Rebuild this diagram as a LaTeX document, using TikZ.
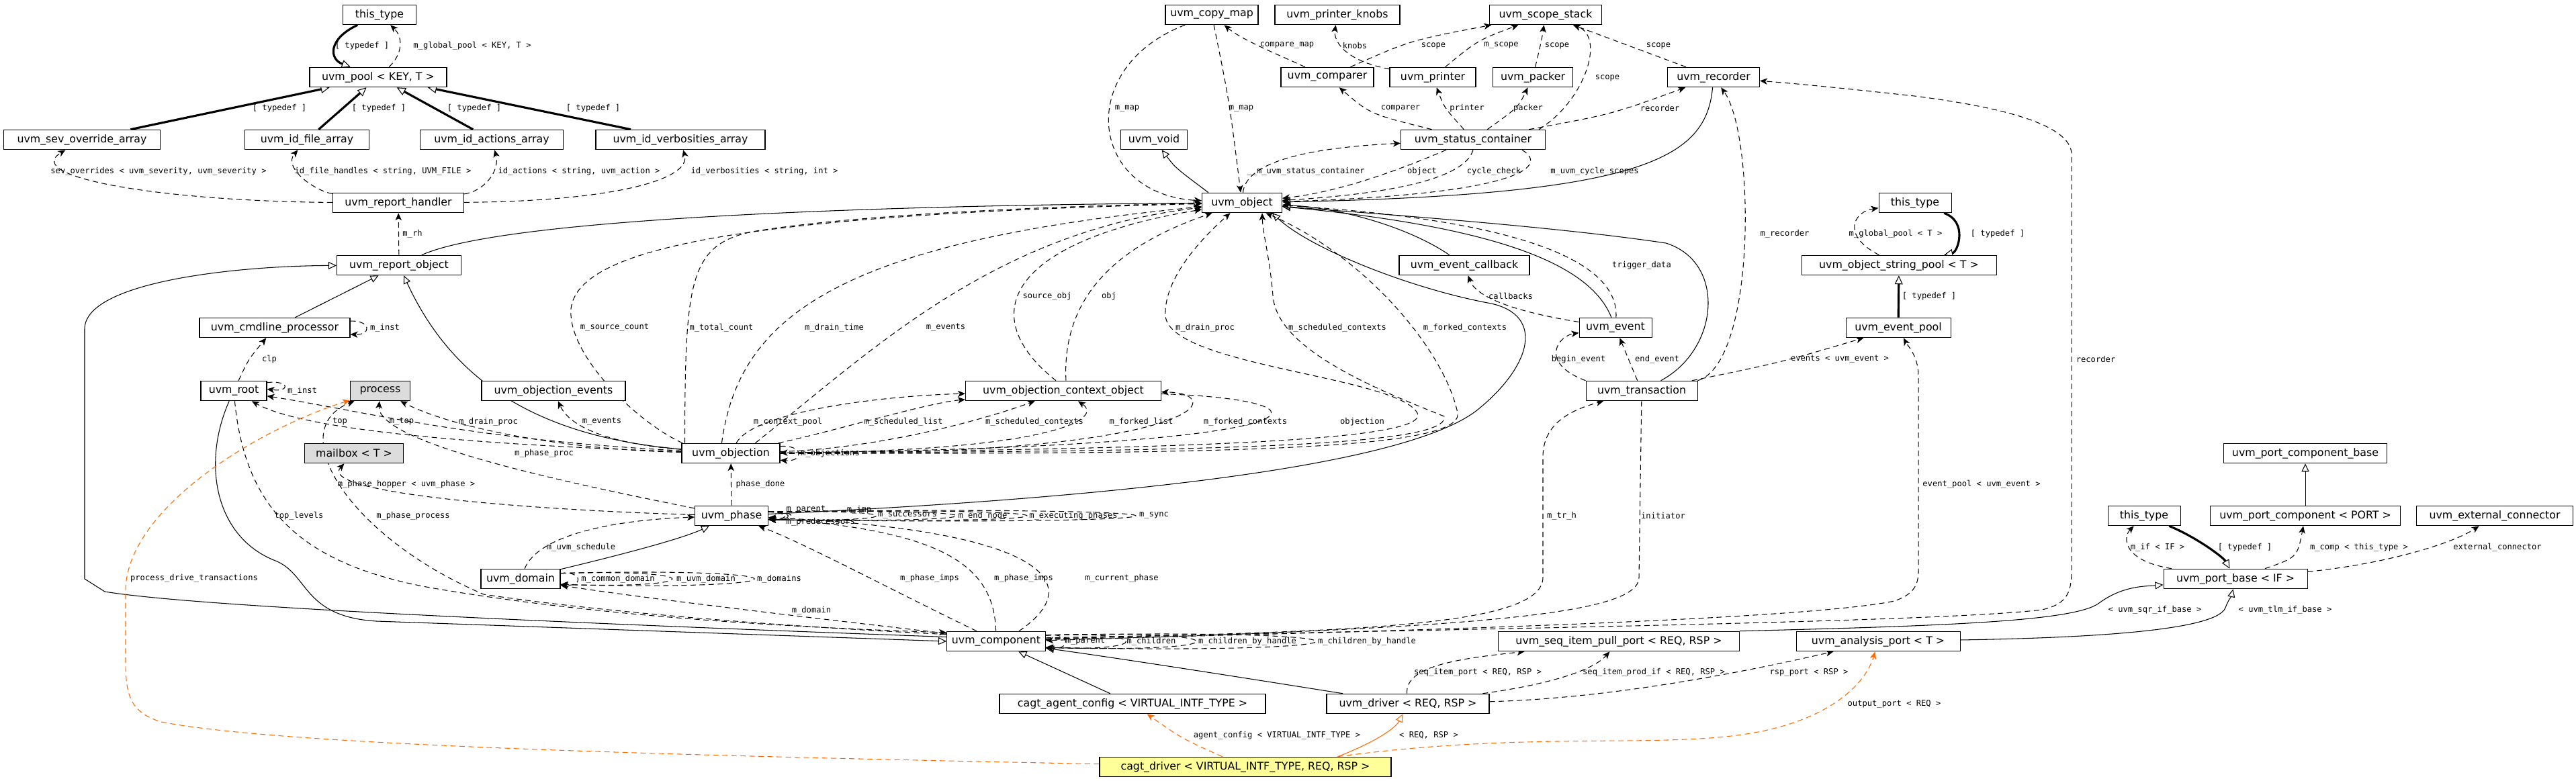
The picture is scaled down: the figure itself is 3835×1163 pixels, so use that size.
\documentclass[tikz,border=0pt]{standalone}
\usepackage{fontspec}
\setmainfont{DejaVu Sans}
\newfontfamily\lblfont{DejaVu Sans Mono}
\usetikzlibrary{arrows.meta, backgrounds}
\definecolor{extgrey}{HTML}{DCDCDC}
\definecolor{focusyel}{HTML}{FFFF99}
\definecolor{focusorange}{HTML}{FF6A00}
\tikzset{
  classbox/.style={draw, line width=0.3pt, fill=white, inner xsep=0.5pt, inner ysep=0pt,
    minimum height=2.95mm, font=\fontsize{4.5}{5}\selectfont},
  extbox/.style={classbox, fill=extgrey},
  focusbox/.style={classbox, fill=focusyel},
  edgelbl/.style={font=\lblfont\fontsize{3.45}{4}\selectfont, inner sep=0pt},
  usesedge/.style={line width=0.3pt, dash pattern=on 0.8mm off 0.55mm,
    -{Stealth[length=1.1mm, width=0.95mm, inset=0.3mm]}},
  inhedge/.style={line width=0.3pt, -{Triangle[open, length=1.2mm, width=1.1mm]}},
  tdefedge/.style={line width=0.9pt, -{Triangle[open, length=1.3mm, width=1.2mm, line width=0.3pt]}},
  usesfocus/.style={usesedge, draw=focusorange},
  inhfocus/.style={inhedge, draw=focusorange},
}
\begin{document}
\begin{tikzpicture}[x=0.1mm, y=-0.1mm]
  \useasboundingbox (0,0) rectangle (3835,1163);
  % classes
  \node[classbox, minimum width=10.9mm] (thistypeA) at (565,22) {this\_type};
  \node[classbox, minimum width=13.8mm] (copymap) at (1804,22) {uvm\_copy\_map};
  \node[classbox, minimum width=18.6mm] (printerknobs) at (1991,22) {uvm\_printer\_knobs};
  \node[classbox, minimum width=16.7mm] (scopestack) at (2301,22) {uvm\_scope\_stack};
  \node[classbox, minimum width=20.4mm] (pool) at (563,115) {uvm\_pool < KEY, T >};
  \node[classbox, minimum width=13.8mm] (comparer) at (1976,115) {uvm\_comparer};
  \node[classbox, minimum width=12.8mm] (printer) at (2133,115) {uvm\_printer};
  \node[classbox, minimum width=11.9mm] (packer) at (2282,115) {uvm\_packer};
  \node[classbox, minimum width=13.7mm] (recorder) at (2551,115) {uvm\_recorder};
  \node[classbox, minimum width=23.3mm] (sevoverride) at (122,208) {uvm\_sev\_override\_array};
  \node[classbox, minimum width=18.5mm] (idfile) at (457,208) {uvm\_id\_file\_array};
  \node[classbox, minimum width=21.3mm] (idactions) at (732,208) {uvm\_id\_actions\_array};
  \node[classbox, minimum width=25.2mm] (idverb) at (1013,208) {uvm\_id\_verbosities\_array};
  \node[classbox, minimum width=9.9mm] (uvoid) at (1718,208) {uvm\_void};
  \node[classbox, minimum width=21.5mm] (statuscont) at (2193,208) {uvm\_status\_container};
  \node[classbox, minimum width=19.5mm] (reporthandler) at (593,302) {uvm\_report\_handler};
  \node[classbox, minimum width=11.9mm] (uobject) at (1849,302) {uvm\_object};
  \node[classbox, minimum width=10.8mm] (thistypeB) at (2851,302) {this\_type};
  \node[classbox, minimum width=18.5mm] (reportobject) at (594,395) {uvm\_report\_object};
  \node[classbox, minimum width=19.4mm] (eventcallback) at (2180,395) {uvm\_event\_callback};
  \node[classbox, minimum width=29mm] (stringpool) at (2827,395) {uvm\_object\_string\_pool < T >};
  \node[classbox, minimum width=22.4mm] (cmdline) at (409,488) {uvm\_cmdline\_processor};
  \node[classbox, minimum width=10.8mm] (uevent) at (2405,488) {uvm\_event};
  \node[classbox, minimum width=15.6mm] (eventpool) at (2826,488) {uvm\_event\_pool};
  \node[classbox, minimum width=9.8mm] (root) at (348,582) {uvm\_root};
  \node[extbox, minimum width=8.9mm] (process) at (566,582) {process};
  \node[classbox, minimum width=21.4mm] (objectionevents) at (824,582) {uvm\_objection\_events};
  \node[classbox, minimum width=29.1mm] (contextobject) at (1583,582) {uvm\_objection\_context\_object};
  \node[classbox, minimum width=16.6mm] (transaction) at (2444,582) {uvm\_transaction};
  \node[extbox, minimum width=14.7mm] (mailbox) at (527,675) {mailbox < T >};
  \node[classbox, minimum width=14.6mm] (objection) at (1088,675) {uvm\_objection};
  \node[classbox, minimum width=24.3mm] (portcompbase) at (3432,675) {uvm\_port\_component\_base};
  \node[classbox, minimum width=10.9mm] (phase) at (1089,768) {uvm\_phase};
  \node[classbox, minimum width=10.8mm] (thistypeC) at (3192,768) {this\_type};
  \node[classbox, minimum width=28.3mm] (portcomp) at (3432,768) {uvm\_port\_component < PORT >};
  \node[classbox, minimum width=23.3mm] (extconn) at (3714,768) {uvm\_external\_connector};
  \node[classbox, minimum width=11.8mm] (domain) at (775,862) {uvm\_domain};
  \node[classbox, minimum width=21.4mm] (portbase) at (3328,862) {uvm\_port\_base < IF >};
  \node[classbox, minimum width=14.7mm] (component) at (1483,955) {uvm\_component};
  \node[classbox, minimum width=35.9mm] (seqitempull) at (2410,955) {uvm\_seq\_item\_pull\_port < REQ, RSP >};
  \node[classbox, minimum width=24.4mm] (analysisport) at (2796,955) {uvm\_analysis\_port < T >};
  \node[classbox, minimum width=39.6mm] (agentconfig) at (1686,1048) {cagt\_agent\_config < VIRTUAL\_INTF\_TYPE >};
  \node[classbox, minimum width=24.2mm] (driver) at (2096,1048) {uvm\_driver < REQ, RSP >};
  \node[focusbox, minimum width=43.4mm] (cagtdriver) at (1854,1142) {cagt\_driver < VIRTUAL\_INTF\_TYPE, REQ, RSP >};
  \begin{scope}[on background layer]
  \fill[white] (0,0) rectangle (3835,1163);
  % pool and report handler
  \draw[tdefedge] (thistypeA) .. controls (488,58) and (490,88) .. (pool);
  \draw[usesedge] (pool) .. controls (600,80) and (600,55) .. (thistypeA);
  \foreach \n in {sevoverride, idfile, idactions, idverb} \draw[tdefedge] (\n) -- (pool);
  \draw[usesedge] (reporthandler) .. controls (250,300) and (30,265) .. (sevoverride);
  \draw[usesedge] (reporthandler) .. controls (470,285) and (420,250) .. (idfile);
  \draw[usesedge] (reporthandler) .. controls (720,285) and (745,255) .. (idactions);
  \draw[usesedge] (reporthandler) .. controls (900,300) and (1030,270) .. (idverb);
  \draw[usesedge] (reportobject) -- (reporthandler);
  \draw[inhedge] (reportobject) .. controls (760,320) and (1400,305) .. (uobject);
  \draw[inhedge] (cmdline) -- (reportobject);
  \draw[inhedge] (objection) .. controls (790,650) and (670,560) .. (reportobject);
  \draw[inhedge] (component.175) .. controls (900,930) and (300,905) .. (156,881) -- (126,862) -- (126,490)
    .. controls (126,420) and (350,396) .. (reportobject);
  % root, process, mailbox
  \draw[inhedge] (root) .. controls (300,690) and (320,800) .. (410,835) .. controls (460,855) and (450,918) .. (560,925) -- (component.180);
  \draw[usesedge] (root) .. controls (365,760) and (450,840) .. (640,875) .. controls (900,920) and (1200,935) .. (component.170);
  \draw[usesedge] (component.172) .. controls (1100,930) and (850,905) .. (720,885) .. controls (520,800) and (420,640) .. (process);
  \draw[usesedge] (phase) .. controls (850,720) and (560,660) .. (process);
  \draw[usesedge] (objection) .. controls (850,670) and (680,640) .. (process);
  \draw[usesedge] (objection) .. controls (700,662) and (450,640) .. (root);
  \draw[usesedge] (objection) .. controls (700,655) and (540,612) .. (root);
  \draw[usesedge] (objection) .. controls (920,662) and (850,640) .. (objectionevents);
  \draw[usesedge] (phase) .. controls (800,760) and (470,735) .. (mailbox);
  \draw[usesedge] (root.14) .. controls (432,566) and (432,584) .. (root.3);
  \draw[usesedge] (cmdline.5) .. controls (553,477) and (553,499) .. (cmdline.-5);
  \draw[usesedge] (root) .. controls (370,535) .. (cmdline);
  % domain and phase
  \draw[usesedge] (domain) .. controls (800,800) and (900,775) .. (phase);
  \draw[inhedge] (domain) .. controls (950,820) and (1020,800) .. (phase);
  \draw[usesedge] (component.171) .. controls (1250,925) and (950,890) .. (domain);
  \foreach \cx/\dy in {868/12, 1055/15, 1218/18}
    \draw[usesedge] (domain.8) .. controls (\cx,862-\dy) and (\cx,862+\dy) .. (domain.-8);
  \foreach \cx/\dy in {1176/4, 1182/6, 1188/8, 1357/10, 1516/12, 1656/14, 1872/16}
    \draw[usesedge] (phase.6) .. controls (\cx,768-\dy) and (\cx,768+\dy) .. (phase.-6);
  \draw[usesedge] (phase) -- (objection);
  \draw[usesedge] ([xshift=4.5mm]component.north west) .. controls (1330,880) and (1200,810) .. (phase);
  \draw[usesedge] (component) .. controls (1480,840) and (1400,790) .. (phase);
  \draw[usesedge] ([xshift=-4mm]component.north east) .. controls (1620,870) and (1560,790) .. (phase);
  % objection
  \draw[usesedge] (objection.8) .. controls (1197,662) and (1197,688) .. (objection.-8);
  \draw[usesedge] (objection) .. controls (1120,615) and (1300,590) .. (contextobject);
  \draw[usesedge] (objection) .. controls (1250,640) and (1380,600) .. (contextobject);
  \draw[usesedge] (objection) .. controls (1300,668) and (1450,630) .. (contextobject);
  \draw[usesedge] (objection) .. controls (1560,672) and (1645,625) .. (contextobject);
  \draw[usesedge] (objection) .. controls (1800,678) and (1830,585) .. (contextobject);
  \draw[usesedge] (contextobject) .. controls (2000,595) and (2010,665) .. (objection);
  \draw[usesedge] (objection.168) .. controls (950,630) and (845,530) .. (850,460) .. controls (860,370) and (1100,320) .. (uobject);
  \draw[usesedge] ([xshift=0.5mm]objection.north west) .. controls (1020,420) and (1025,365) .. (1120,345)
    .. controls (1300,315) and (1650,305) .. (uobject);
  \draw[usesedge] ([xshift=6mm]objection.north west) .. controls (1100,470) and (1250,360) .. (uobject);
  \draw[usesedge] ([xshift=11mm]objection.north west) .. controls (1300,520) and (1480,345) .. (uobject);
  \draw[usesedge] ([xshift=13.5mm]contextobject.north west) .. controls (1450,470) and (1500,360) .. (uobject);
  \draw[usesedge] ([xshift=15mm]contextobject.north west) .. controls (1580,430) and (1680,360) .. (uobject);
  \draw[usesedge] (objection) .. controls (1800,668) and (2130,655) .. (2110,615) .. controls (2080,560) and (1740,545) .. (1735,470)
    .. controls (1732,410) and (1800,345) .. (uobject);
  \draw[usesedge] (objection) .. controls (1800,672) and (2160,665) .. (2150,620) .. controls (2050,580) and (1900,520) .. (1895,440)
    .. controls (1890,380) and (1880,350) .. ([xshift=-3mm]uobject.south east);
  \draw[usesedge] (objection) .. controls (1800,676) and (2180,672) .. (2170,615) .. controls (2150,520) and (2030,380) .. (uobject);
  \draw[inhedge] (phase) .. controls (1700,740) and (2100,690) .. (2200,610) .. controls (2280,545) and (2300,470) .. (2220,452)
    .. controls (2100,430) and (1950,370) .. ([xshift=-1.5mm]uobject.south east);
  % uvm_object neighbours
  \draw[inhedge] ([xshift=1mm]uobject.north west) .. controls (1750,250) .. (uvoid);
  \draw[usesedge] (copymap) .. controls (1600,100) and (1620,290) .. (uobject);
  \draw[usesedge] (copymap) .. controls (1830,150) .. (uobject);
  \draw[usesedge] (comparer) .. controls (1900,80) and (1850,60) .. (copymap);
  \draw[usesedge] (uobject) .. controls (1855,240) and (1950,220) .. (statuscont);
  \draw[usesedge] ([xshift=-4mm]statuscont.south) .. controls (2090,250) and (2000,285) .. (uobject);
  \draw[usesedge] (statuscont.south) .. controls (2180,270) and (2050,290) .. (uobject);
  \draw[usesedge] ([xshift=-3.5mm]statuscont.south east) .. controls (2310,250) and (2250,290) .. (uobject);
  \draw[inhedge] (recorder) .. controls (2540,235) and (2450,290) .. (uobject);
  \draw[inhedge] (eventcallback) .. controls (2100,340) and (2000,310) .. (uobject);
  \draw[inhedge] (uevent) .. controls (2370,400) and (2250,340) .. (uobject);
  \draw[inhedge] (transaction) .. controls (2560,520) and (2570,390) .. (2480,362) .. controls (2300,335) and (2000,315) .. (uobject);
  \draw[usesedge] (uevent) .. controls (2410,400) and (2300,330) .. (uobject);
  \draw[usesedge] (uevent) .. controls (2290,470) and (2200,450) .. (eventcallback);
  % status container and scope stack
  \draw[usesedge] (statuscont) .. controls (2040,170) .. (comparer);
  \draw[usesedge] (statuscont) .. controls (2150,160) .. (printer);
  \draw[usesedge] (statuscont) .. controls (2260,160) .. (packer);
  \draw[usesedge] (statuscont) .. controls (2400,170) .. (recorder);
  \draw[usesedge] ([xshift=-1mm]statuscont.north east) .. controls (2360,150) and (2390,55) .. (scopestack);
  \draw[usesedge] (comparer) .. controls (2100,60) .. (scopestack);
  \draw[usesedge] (printer) .. controls (2200,60) .. (scopestack);
  \draw[usesedge] (packer) .. controls (2295,60) .. (scopestack);
  \draw[usesedge] (recorder) .. controls (2430,70) .. (scopestack);
  \draw[usesedge] (printer) .. controls (2000,90) and (1985,60) .. (printerknobs);
  % transaction and event pool
  \draw[usesedge] (transaction.north east) .. controls (2615,540) and (2613,200) .. (recorder);
  \draw[usesedge] (transaction) .. controls (2650,540) .. (eventpool);
  \draw[usesedge] (transaction.north west) .. controls (2290,540) and (2320,500) .. (uevent);
  \draw[usesedge] (transaction) -- (uevent);
  \draw[tdefedge] (thistypeB) .. controls (2930,330) and (2915,375) .. (stringpool);
  \draw[usesedge] (stringpool) .. controls (2740,350) and (2760,315) .. (thistypeB);
  \draw[tdefedge] (eventpool) -- (stringpool);
  % component
  \foreach \cx/\dy in {1595/14, 1715/16, 1855/18, 2092/20}
    \draw[usesedge] (component.7) .. controls (\cx,955-\dy) and (\cx,955+\dy) .. (component.-7);
  \draw[usesedge] (component.3) .. controls (2000,940) and (2297,935) .. (2297,860) -- (2297,680)
    .. controls (2297,630) and (2340,610) .. (transaction);
  \draw[usesedge] (transaction) -- (2440,860) .. controls (2440,915) and (2200,935) .. (component.1);
  \draw[usesedge] (component.2) .. controls (2200,938) and (2700,920) .. (2820,895) .. controls (2850,885) and (2856,870) .. (2856,850)
    -- (2856,560) .. controls (2856,530) and (2840,515) .. (eventpool);
  \draw[usesedge] (component.4) .. controls (2300,935) and (2900,925) .. (3040,908) .. controls (3075,900) and (3084,885) .. (3084,850)
    -- (3084,230) .. controls (3084,190) and (3000,162) .. (2850,143) .. controls (2750,132) and (2680,125) .. (recorder);
  \draw[inhedge] (driver) .. controls (1950,1025) and (1700,985) .. (component);
  \draw[inhedge] (agentconfig) -- (component);
  % driver and ports
  \draw[usesedge] (driver) .. controls (2091,990) and (2180,980) .. (seqitempull);
  \draw[usesedge] (driver) .. controls (2300,1020) and (2370,1000) .. (seqitempull);
  \draw[usesedge] (driver) .. controls (2400,1040) and (2600,1000) .. (analysisport);
  \draw[inhedge] (seqitempull.north east) .. controls (2900,932) and (3090,925) .. (3125,898) .. controls (3160,872) and (3195,873) .. (portbase);
  \draw[inhedge] (analysisport) .. controls (3100,950) and (3300,940) .. (3313,905) .. controls (3318,892) and (3322,888) .. (portbase);
  \draw[tdefedge] (thistypeC) .. controls (3270,800) and (3310,830) .. (portbase);
  \draw[usesedge] (portbase) .. controls (3160,835) and (3160,800) .. (thistypeC);
  \draw[inhedge] (portcomp) -- (portcompbase);
  \draw[usesedge] (portbase) .. controls (3420,830) .. (portcomp);
  \draw[usesedge] (portbase) .. controls (3550,840) and (3650,810) .. (extconn);
  % cagt_driver
  \draw[inhfocus] ([xshift=-8mm]cagtdriver.north east) .. controls (2060,1100) and (2080,1080) .. (driver);
  \draw[usesfocus] (cagtdriver) .. controls (1760,1100) .. (agentconfig);
  \draw[usesfocus] ([xshift=-8mm]cagtdriver.north east) .. controls (2300,1085) and (2500,1120) .. (2640,1085)
    .. controls (2740,1060) and (2780,1010) .. (analysisport);
  \draw[usesfocus] (cagtdriver) .. controls (1000,1125) and (420,1110) .. (240,1075) .. controls (190,1060) and (187,1030) .. (187,980)
    -- (187,880) .. controls (187,760) and (380,640) .. (process);
  \end{scope}
  % edge labels
  \foreach \nm/\x/\y/\txt in {
    lbtdA/539/68/{[ typedef ]}, lbgpool/703/68/{m\_global\_pool < KEY, T >},
    lbtdB/416/161/{[ typedef ]}, lbtdC/564/161/{[ typedef ]}, lbtdD/706/161/{[ typedef ]}, lbtdE/883/161/{[ typedef ]},
    lbsev/236/255/{sev\_overrides < uvm\_severity, uvm\_severity >},
    lbfile/570/255/{id\_file\_handles < string, UVM\_FILE >},
    lbact/862/255/{id\_actions < string, uvm\_action >},
    lbverb/1138/255/{id\_verbosities < string, int >},
    lbrh/614/348/{m\_rh}, lbinstA/573/488/{m\_inst}, lbsrc/915/488/{m\_source\_count}, lbclp/401/535/{clp},
    lbinstB/450/582/{m\_inst}, lbtop/506/628/{top}, lbmtop/598/628/{m\_top}, lbdrainA/727/628/{m\_drain\_proc},
    lbevA/896/628/{m\_events}, lbpproc/810/675/{m\_phase\_proc}, lbhop/605/721/{m\_phase\_hopper < uvm\_phase >},
    lbtoplv/445/768/{top\_levels}, lbpprocess/615/768/{m\_phase\_process}, lbsched/865/815/{m\_uvm\_schedule},
    lbdrive/289/861/{process\_drive\_transactions}, lbcommon/920/862/{m\_common\_domain},
    lbuvmdom/1051/862/{m\_uvm\_domain}, lbdoms/1160/862/{m\_domains}, lbdom/1208/909/{m\_domain},
    lbmapA/1678/162/{m\_map}, lbmapB/1848/162/{m\_map}, lbcmap/1916/68/{compare\_map}, lbknobs/2017/68/{knobs},
    lbscA/2134/68/{scope}, lbscB/2235/68/{m\_scope}, lbscC/2318/68/{scope}, lbscD/2469/68/{scope}, lbscE/2393/116/{scope},
    lbcmp/2085/161/{comparer}, lbprn/2184/161/{printer}, lbpck/2275/161/{packer}, lbrec/2471/161/{recorder},
    lbstat/1944/255/{\_\_m\_uvm\_status\_container}, lbobj/2117/255/{object}, lbcyc/2224/255/{cycle\_check},
    lbcycsc/2374/255/{m\_uvm\_cycle\_scopes}, lbmrec/2657/348/{m\_recorder}, lbgpoolT/2822/348/{m\_global\_pool < T >},
    lbtdF/2974/348/{[ typedef ]}, lbtrig/2444/395/{trigger\_data}, lbcb/2249/441/{callbacks}, lbtdG/2872/441/{[ typedef ]},
    lbsobj/1559/441/{source\_obj}, lbobjB/1651/441/{obj}, lbtotal/1074/488/{m\_total\_count}, lbdtime/1242/488/{m\_drain\_time},
    lbevB/1408/488/{m\_events}, lbdrainB/1794/488/{m\_drain\_proc}, lbschA/1991/488/{m\_scheduled\_contexts},
    lbforkA/2181/488/{m\_forked\_contexts}, lbbegin/2350/535/{begin\_event}, lbend/2467/535/{end\_event},
    lbevents/2739/535/{events < uvm\_event >}, lbrecB/3120/535/{recorder}, lbctx/1173/628/{m\_context\_pool},
    lbslist/1345/628/{m\_scheduled\_list}, lbschB/1540/628/{m\_scheduled\_contexts}, lbflist/1699/628/{m\_forked\_list},
    lbforkB/1854/628/{m\_forked\_contexts}, lbobjn/2028/628/{objection}, lbobjs/1236/675/{m\_objections},
    lbpdone/1132/721/{phase\_done}, lbepool/2950/721/{event\_pool < uvm\_event >},
    lbsucc/1351/768/{m\_successors}, lbendn/1463/768/{m\_end\_node}, lbexec/1598/768/{m\_executing\_phases},
    lbsync/1718/768/{m\_sync}, lbtrh/2325/768/{m\_tr\_h}, lbinit/2476/768/{initiator},
    lbif/3212/815/{m\_if < IF >}, lbtdH/3342/815/{[ typedef ]}, lbcomp/3512/815/{m\_comp < this\_type >},
    lbext/3718/815/{external\_connector}, lbimpA/1384/861/{m\_phase\_imps}, lbimpB/1524/861/{m\_phase\_imps},
    lbcur/1670/861/{m\_current\_phase}, lbsqr/3208/908/{< uvm\_sqr\_if\_base >}, lbtlm/3402/908/{< uvm\_tlm\_if\_base >},
    lbparB/1616/955/{m\_parent}, lbchild/1714/955/{m\_children}, lbhandA/1857/955/{m\_children\_by\_handle},
    lbhandB/2035/955/{m\_children\_by\_handle}, lbsip/2200/1001/{seq\_item\_port < REQ, RSP >},
    lbprod/2462/1001/{seq\_item\_prod\_if < REQ, RSP >}, lbrsp/2693/1001/{rsp\_port < RSP >},
    lbout/2820/1048/{output\_port < REQ >}, lbacfg/1901/1095/{agent\_config < VIRTUAL\_INTF\_TYPE >},
    lbreqrsp/2127/1095/{< REQ, RSP >}}
    \node[edgelbl] (\nm) at (\x,\y) {\txt};
  \node[edgelbl, anchor=west] (lbparA) at (1170,759) {m\_parent};
  \node[edgelbl, anchor=west] (lbpred) at (1170,777) {m\_predecessors};
  \node[edgelbl, anchor=east] (lbimp) at (1298,759) {m\_imp};
\end{tikzpicture}
\end{document}
